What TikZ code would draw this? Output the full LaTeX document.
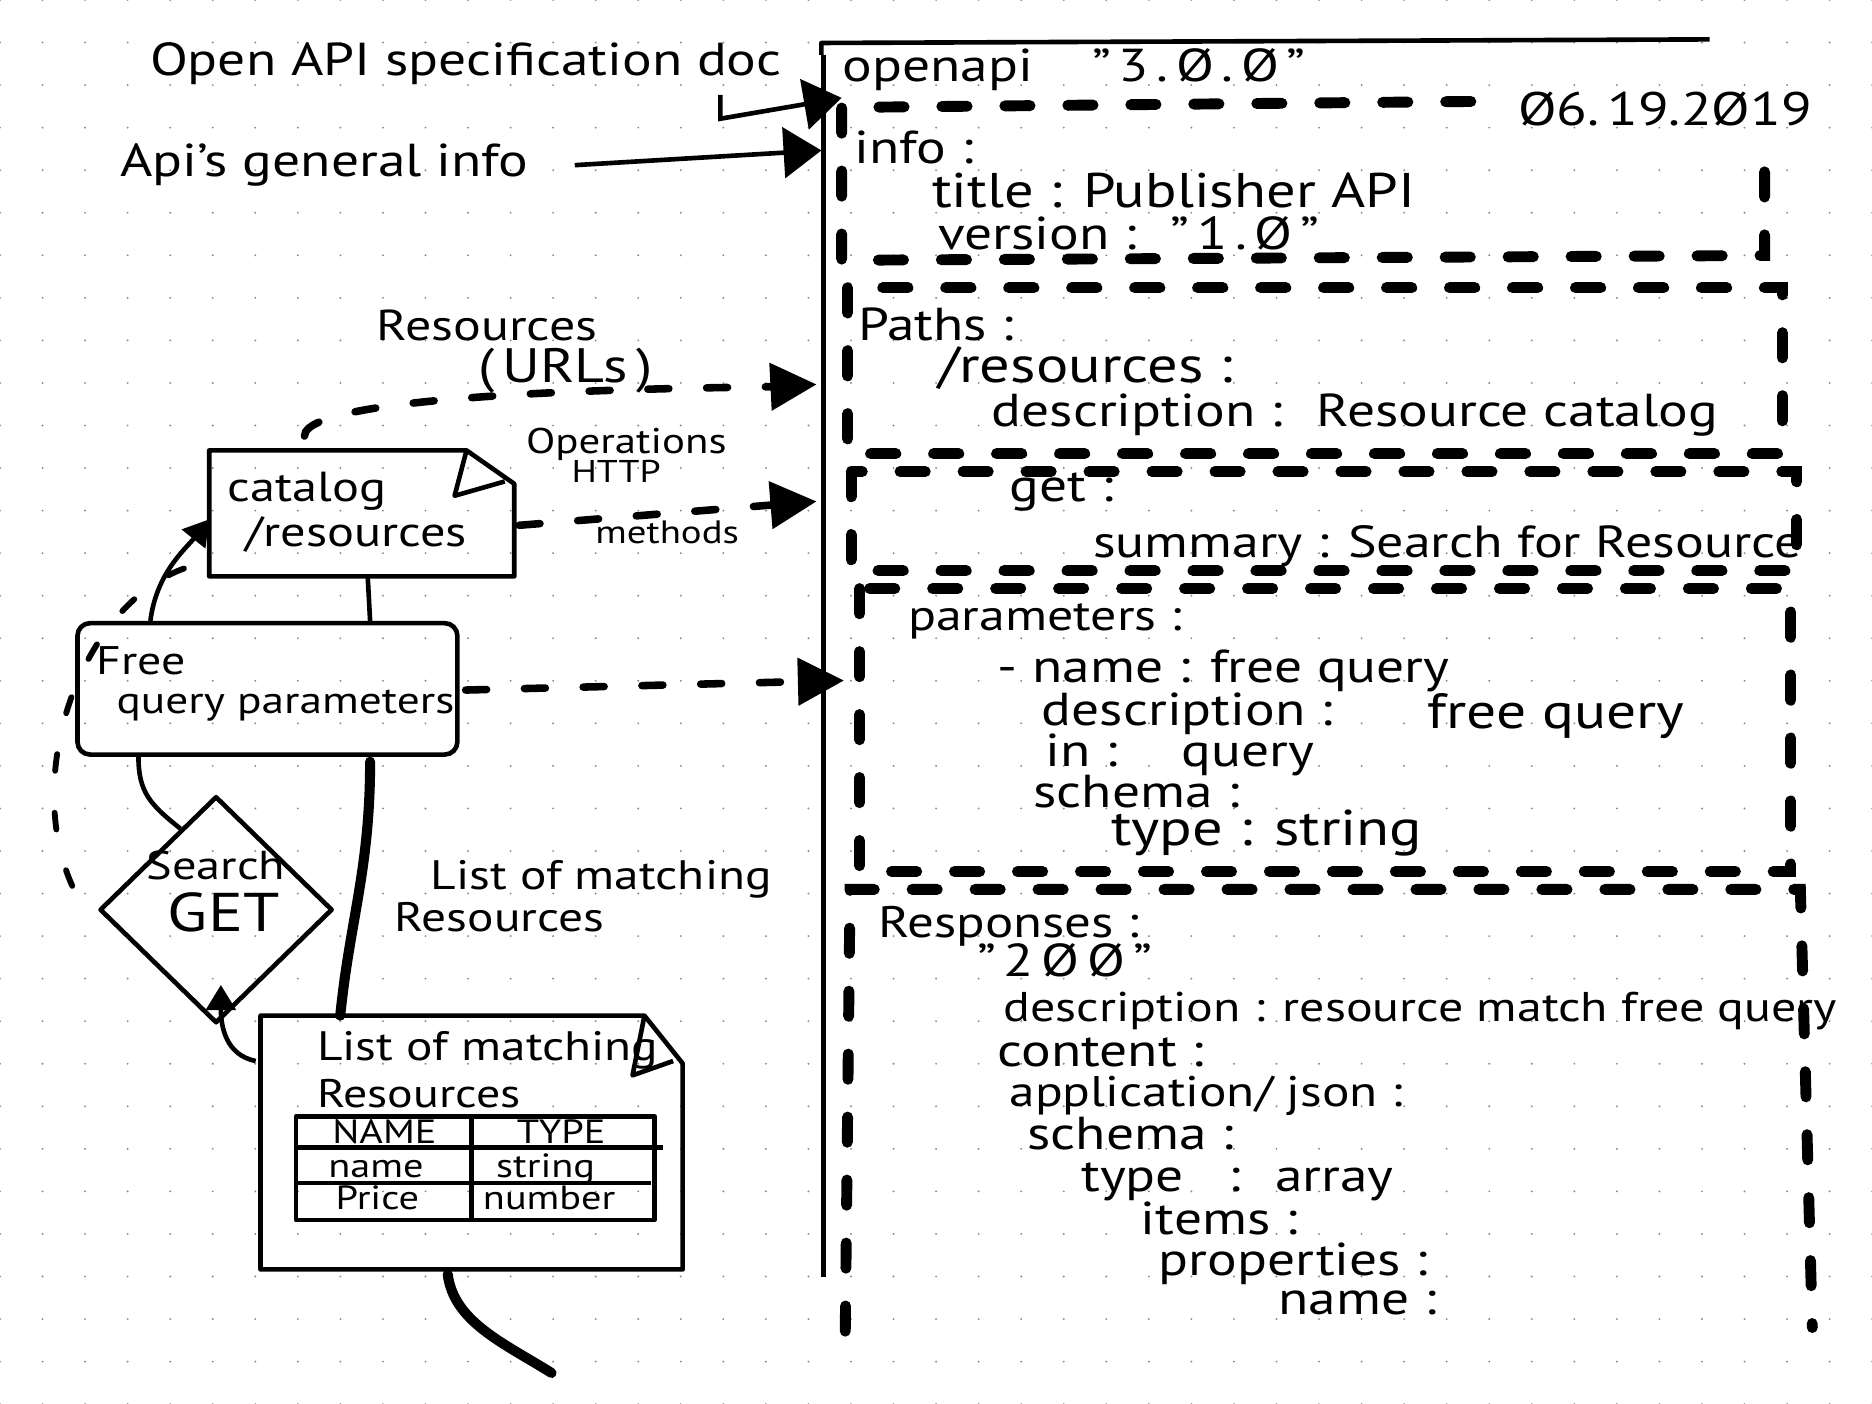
\documentclass[tikz,border=0pt]{standalone}
\usepackage{fontspec}
\setmainfont[FakeStretch=1.2]{PT Sans}
\usetikzlibrary{arrows.meta,shapes.geometric,calc}

% box with a folded top right corner: node, corner width, corner drop
\newcommand{\foldbox}[3]{%
  \draw[box] (#1.north west) -- ([shift={(-#2,0)}]#1.north east)
    -- ([shift={(0,#3)}]#1.north east) -- (#1.south east)
    -- (#1.south west) -- cycle;
  \draw[box] ([shift={(-#2,0)}]#1.north east) -- ([shift={(-#2-10,#3+10)}]#1.north east)
    -- ([shift={(-8,#3-2)}]#1.north east);
}

\tikzset{
  hand/.style={font=\fontsize{#1}{#1}\selectfont, inner sep=0pt, anchor=base west},
  hand/.default=11,
  cell/.style={font=\fontsize{8}{8}\selectfont, inner sep=0pt, anchor=base},
  box/.style={line width=1.1pt, line join=round},
  thickline/.style={line width=2.4pt, line cap=round},
  arrow/.style={line width=1.1pt, -{Triangle[length=9pt,width=12pt]}},
  smallarrow/.style={line width=1.1pt, -{Triangle[length=6pt,width=7pt]}},
  dasharrow/.style={line width=1.8pt, line cap=round, dash pattern=on 5pt off 9pt, -{Triangle[length=11pt,width=11pt]}},
  dashline/.style={line width=1.4pt, line cap=round, dash pattern=on 4pt off 10pt},
  bdash/.style={line width=2.6pt, line cap=round, dash pattern=on 6pt off 9pt},
}

\begin{document}
\begin{tikzpicture}[x=0.01cm, y=-0.01cm]
\useasboundingbox (0,0) rectangle (1568,1176);

% dotted paper
\foreach \i in {0,...,44}
  \foreach \j in {0,...,33}
    \fill[black!45] (\i*35.64,\j*35.64) circle (0.9);

% the spec document
\draw[box] (688,46) -- (688,36) -- (1432,33);
\draw[box] (690,46) -- (690,1070);

\node[hand] (openapi) at (705,68) {openapi \ \ \ "\,3\,.\,Ø\,.\,Ø\,"};
\node[hand=11.2] (date) at (1271,105) {Ø6.\,19.2Ø19};

\draw[bdash] (1232,85) -- (705,90) -- (705,218) -- (1478,214) -- (1478,117);
\node[hand] (info) at (715,137) {info :};
\node[hand=11.6] (title) at (780,174) {title : Publisher API};
\node[hand] (version) at (785,209) {version : \ "\,1\,.\,Ø\,"};

\draw[bdash] (710,241) rectangle (1493,380);
\node[hand] (paths) at (718,285) {Paths :};
\node[hand=12] (res) at (785,320) {/resources :};
\node[hand] (resdesc) at (830,357) {description : \ Resource catalog};

\draw[bdash] (713,395) rectangle (1505,478);
\node[hand] (get) at (845,420) {get :};
\node[hand=10.7] (summary) at (915,467) {summary : Search for Resource};

\draw[bdash] (720,493) rectangle (1500,730);
\node[hand=10.3] (params) at (760,528) {parameters :};
\node[hand] (pname) at (835,572) {- name : free query};
\node[hand] (pdesc) at (872,608) {description :};
\node[hand=11.8] (pdescval) at (1195,610) {free query};
\node[hand] (pin) at (875,642) {in : \ \ \ query};
\node[hand] (pschema) at (865,676) {schema :};
\node[hand=12] (ptype) at (930,708) {type : string};

\draw[bdash] (708,1115) -- (712,745) -- (1508,745) -- (1518,1112);
\node[hand=10.5] (resp) at (735,785) {Responses :};
\node[hand] (code) at (818,818) {"\,2\,Ø\,Ø\,"};
\node[hand=9.9] (rdesc) at (840,856) {description : resource match free query};
\node[hand] (content) at (835,893) {content :};
\node[hand=10.2] (appjson) at (845,927) {application/ json :};
\node[hand] (rschema) at (860,963) {schema :};
\node[hand] (rtype) at (905,998) {type \ \ : \ array};
\node[hand] (items) at (955,1034) {items :};
\node[hand] (props) at (970,1068) {properties :};
\node[hand] (pname2) at (1070,1101) {name :};

% where the arrows hit the document
\coordinate (docin) at (705,82);
\coordinate (infoin) at (688,126);
\coordinate (pathsin) at (684,322);
\coordinate (getin) at (684,420);
\coordinate (paramin) at (707,570);

% notes on the left
\node[hand] (spec) at (125,63) {Open API specification doc};
\node[hand] (geninfo) at (100,148) {Api's general info};
\node[hand=10.3] (urlres) at (315,285) {Resources};
\node[hand=11.5] (urls) at (400,320) {(\,URLs\,)};
\node[hand=8.5] (opers) at (440,380) {Operations};
\node[hand=7.5] (http) at (478,404) {HTTP};
\node[hand=7.7] (meths) at (498,455) {methods};

\node[minimum width=2.54cm, minimum height=1.04cm, inner sep=0pt] (catalog) at (303,430) {};
\foldbox{catalog}{40}{28}
\node[hand=10] (catname) at (190,420) {catalog};
\node[hand=10] (catpath) at (205,458) {/resources};

\node[draw, box, rounded corners=3pt, minimum width=3.18cm, minimum height=1.1cm] (freeq) at (224,577) {};
\node[hand=9.5] (freeword) at (80,565) {Free};
\node[hand=9] (qparams) at (97,598) {query parameters};

\node[draw, box, diamond, minimum width=1.95cm, minimum height=1.9cm, inner sep=0pt] (search) at (181,762) {};
\node[hand=9.6] (searchw) at (122,737) {Search};
\node[hand=13] (getw) at (140,780) {GET};

\node[hand=9.8] (matchlbl) at (360,745) {List of matching};
\node[hand=9.8] (matchres) at (330,780) {Resources};

\node[minimum width=3.52cm, minimum height=2.11cm, inner sep=0pt] (listres) at (395,957) {};
\foldbox{listres}{32}{40}
\node[hand=9.8] (listl1) at (265,888) {List of matching};
\node[hand=9.5] (listl2) at (265,928) {Resources};

% table of the list
\draw[box] (248,935) rectangle (548,1022);
\draw[box] (248,961) -- (555,961);
\draw[box] (246,991) -- (545,991);
\draw[box] (395,935) -- (395,1022);
\node[cell] (hname) at (322,958) {NAME};
\node[cell] (htype) at (470,958) {TYPE};
\node[cell] (cname) at (315,986) {name};
\node[cell] (ctype1) at (457,986) {string};
\node[cell] (cprice) at (316,1013) {Price};
\node[cell] (ctype2) at (460,1013) {number};

% connectors
\draw[arrow] ([shift={(-52,8)}]spec.south east) -- ++(0,20) -- (docin);
\draw[arrow] ([shift={(38,0)}]geninfo.east) -- (infoin);
\draw[dasharrow] ([shift={(-48,-12)}]catalog.north) .. controls +(0,-40) and +(-60,3) .. (pathsin);
\draw[dasharrow] ([shift={(4,10)}]catalog.east) -- (getin);
\draw[dasharrow] ([shift={(5,1)}]freeq.east) -- (paramin);
\draw[box] ([shift={(5,0)}]catalog.south) -- ([shift={(86,0)}]freeq.north);
\draw[smallarrow] ([shift={(63,0)}]freeq.north west) .. controls +(5,-40) and +(-20,25) .. ([shift={(0,5)}]catalog.west);
\draw[dashline] ([shift={(-21,-20)}]search.west) .. controls +(-45,-100) and +(-100,15) .. ([shift={(0,-12)}]catalog.south west);
\draw[box] ([shift={(53,0)}]freeq.south west) .. controls +(0,30) and +(-25,-20) .. ($(search.north)!0.3!(search.west)$);
\draw[smallarrow] ([shift={(-4,38)}]listres.north west) .. controls +(-25,-5) and +(0,35) .. ([shift={(4,-34)}]search.south);
\draw[thickline] ([shift={(86,4)}]freeq.south) .. controls +(0,90) and +(8,-80) .. ([shift={(-110,0)}]listres.north);
\coordinate (tailend) at (462,1150);
\draw[thickline] ([shift={(-20,4)}]listres.south) .. controls +(5,40) and +(-40,-25) .. (tailend);

\end{tikzpicture}
\end{document}
